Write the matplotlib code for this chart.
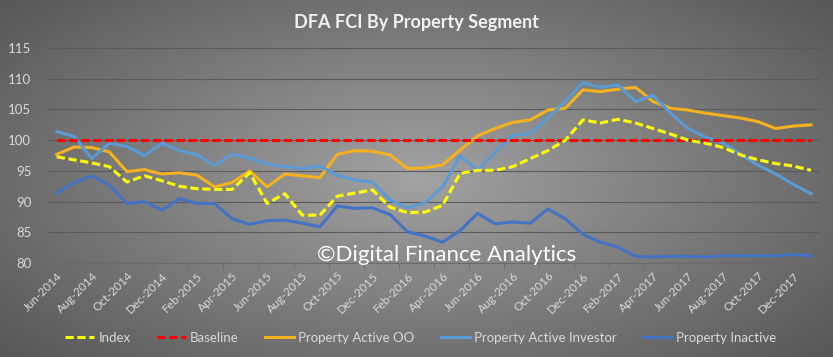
import matplotlib
matplotlib.use("Agg")
import matplotlib.pyplot as plt
import numpy as np
import pandas as pd

plt.rcParams.update({
    "font.family": ["Lato", "DejaVu Sans"],
})

# ── data ─────────────────────────────────────────────────────────────────────
months = pd.date_range("2014-06-01", periods=44, freq="MS")
labels = [d.strftime("%b-%Y") for d in months]

index_fci = [97.3, 96.8, 96.3, 95.7, 93.2, 94.2, 93.4, 92.5, 92.1, 92.0,
             92.0, 94.7, 89.7, 91.3, 87.8, 87.8, 90.9, 91.4, 91.9, 89.1,
             88.2, 88.3, 89.4, 94.6, 95.1, 95.1, 95.7, 97.0, 98.3, 100.0,
             103.3, 102.8, 103.4, 102.8, 101.9, 101.0, 100.0, 99.5, 98.8, 97.6,
             96.8, 96.2, 95.8, 95.1]
baseline = [100.0] * 44
active_oo = [97.7, 98.9, 98.8, 98.1, 94.9, 95.2, 94.5, 94.7, 94.3, 92.4,
             93.1, 95.0, 92.4, 94.5, 94.2, 93.9, 97.7, 98.3, 98.2, 97.6,
             95.4, 95.5, 96.0, 98.4, 100.7, 101.9, 102.9, 103.3, 104.9, 105.2,
             108.2, 107.9, 108.3, 108.6, 106.3, 105.2, 104.9, 104.4, 104.0, 103.6,
             103.0, 101.9, 102.3, 102.5]
active_inv = [101.4, 100.6, 97.0, 99.5, 99.0, 97.5, 99.5, 98.3, 97.6, 95.9,
              97.7, 97.1, 96.1, 95.7, 95.4, 95.8, 94.3, 93.5, 93.2, 90.3,
              89.0, 89.8, 92.4, 97.4, 95.1, 98.1, 100.8, 101.1, 103.6, 106.3,
              109.4, 108.6, 109.0, 106.3, 107.3, 104.4, 101.9, 100.5, 99.5, 97.7,
              95.9, 94.5, 92.8, 91.3]
inactive = [91.4, 93.1, 94.2, 92.7, 89.7, 90.0, 88.6, 90.5, 89.7, 89.7,
            87.2, 86.3, 86.9, 87.0, 86.5, 85.9, 89.3, 88.9, 89.0, 87.9,
            85.1, 84.4, 83.4, 85.3, 88.1, 86.4, 86.7, 86.5, 88.8, 87.2,
            84.7, 83.4, 82.6, 81.1, 81.0, 81.1, 81.1, 81.0, 81.2, 81.2,
            81.2, 81.2, 81.4, 81.2]

fig = plt.figure(figsize=(8.33, 3.57), dpi=100)

# dark radial background like the Excel chart area
bg = fig.add_axes([0, 0, 1, 1], zorder=-10)
yy, xx = np.mgrid[-1:1:200j, -1:1:400j]
r = np.sqrt((xx * 0.9) ** 2 + (yy * 0.8) ** 2)
bg.imshow(r, cmap="gray_r", vmin=-1.5, vmax=2.6, aspect="auto",
          extent=[0, 1, 0, 1])
bg.axis("off")

ax = fig.add_axes([0.0576, 0.263, 0.9264, 0.6025])
ax.set_facecolor("none")
x = np.arange(len(months))

dash = (0, (2.7, 1.2))
ax.plot(x, index_fci, color="#FFFF00", lw=2.2, ls=dash, label="Index", zorder=5)
ax.plot(x, baseline, color="#FF0000", lw=2.2, ls=dash, label="Baseline", zorder=4)
ax.plot(x, active_oo, color="#F5B120", lw=2.2, label="Property Active OO", zorder=3)
ax.plot(x, active_inv, color="#5B9BD5", lw=2.2, label="Property Active Investor", zorder=3)
ax.plot(x, inactive, color="#4472C4", lw=2.2, label="Property Inactive", zorder=3)

ax.set_xlim(-0.5, len(months) - 0.5)
ax.set_ylim(80, 115)
ax.set_yticks(range(80, 116, 5))
ax.grid(axis="y", color="#5a5a5a", lw=0.8)
ax.set_axisbelow(True)
for s in ["top", "right", "left"]:
    ax.spines[s].set_visible(False)
ax.spines["bottom"].set_color("#6a6a6a")

ax.set_xticks(x[::2])
ax.set_xticklabels(labels[::2], rotation=45, ha="right", rotation_mode="anchor",
                   fontsize=8.5, color="#d9d9d9")
ax.set_xticks(np.arange(-0.5, len(months), 2), minor=True)
ax.tick_params(axis="x", which="major", length=0, pad=5)
ax.tick_params(axis="x", which="minor", length=4, color="#6a6a6a")
ax.tick_params(axis="y", length=0, labelsize=9.5, labelcolor="#d9d9d9", pad=12)

ax.text(0.517, 0.012, "\u00a9Digital Finance Analytics", transform=ax.transAxes,
        ha="center", va="baseline", fontsize=16, color="white", zorder=6)

fig.text(0.5, 0.938, "DFA FCI By Property Segment", ha="center", va="center",
         fontsize=13, fontweight="bold", color="#f2f2f2")

leg = fig.legend(loc="center", bbox_to_anchor=(0.505, 0.053), ncol=5, frameon=False,
                 fontsize=9.5, handlelength=2.2, columnspacing=2.0, handletextpad=0.3)
for t in leg.get_texts():
    t.set_color("#d9d9d9")

fig.savefig("out.png", dpi=100)
